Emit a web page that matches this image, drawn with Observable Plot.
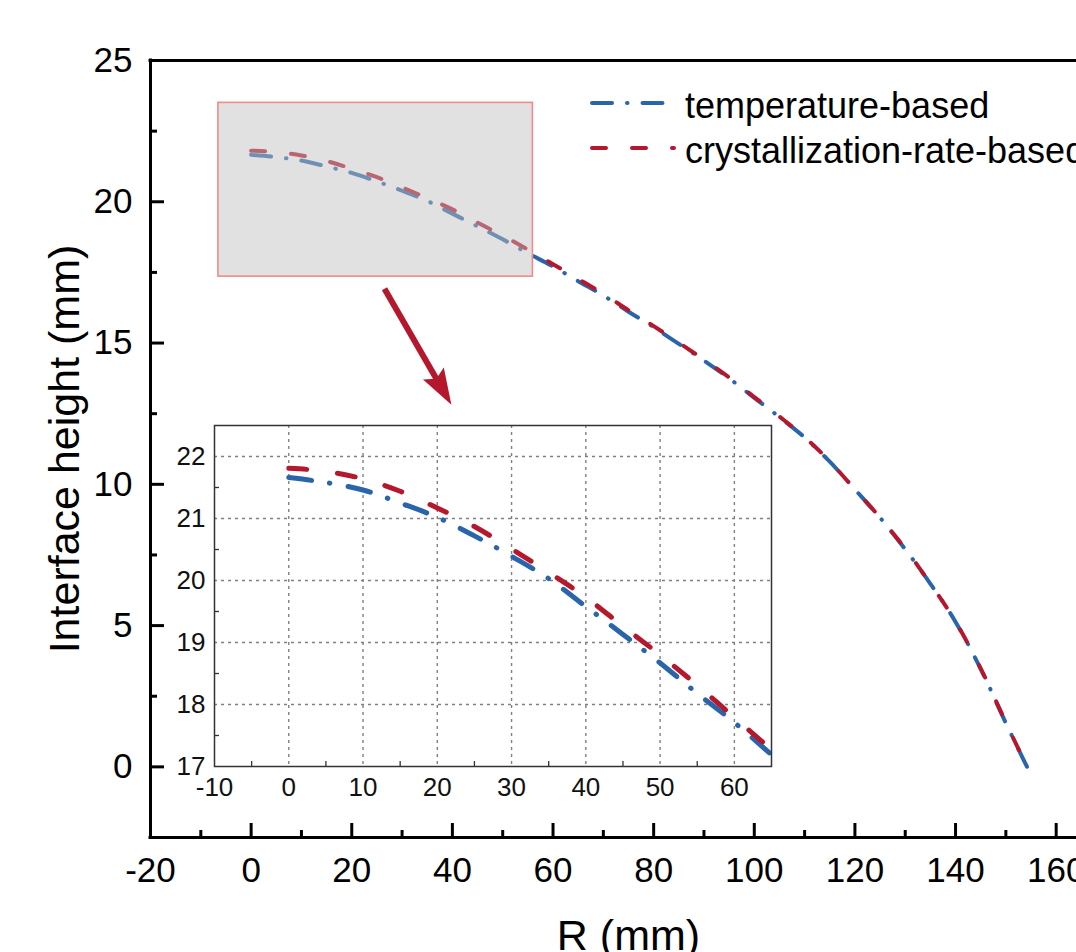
<!DOCTYPE html>
<html><head><meta charset="utf-8">
<script src="https://cdn.jsdelivr.net/npm/d3@7"></script>
<script src="https://cdn.jsdelivr.net/npm/@observablehq/plot@0.6"></script>
<style>
html,body{margin:0;padding:0;overflow:hidden;background:#fff;width:1076px;height:952px}
#wrap{position:relative;width:1076px;height:952px;overflow:hidden;background:#fff}
#wrap svg{position:absolute;display:block}
#main [aria-label="x-axis tick label"], #main [aria-label="y-axis tick label"],
#main [aria-label="x-axis tick label"] text, #main [aria-label="y-axis tick label"] text{font-size:35px !important}
</style></head><body><div id="wrap"></div>
<script>
// ---------- data ----------
const rValues = [0,5,10,15,20,25,30,35,40,45,50,55,60,65,70,75,80,85,90,95,100,105,110,115,120,125,130,135,140,145,150,154.2];
const temperatureBased = [21.66,21.58,21.46,21.25,21.02,20.72,20.39,20.03,19.58,19.13,18.67,18.18,17.71,17.19,16.68,16.11,15.56,14.97,14.38,13.75,13.06,12.38,11.66,10.80,9.82,8.82,7.70,6.48,5.13,3.47,1.55,0];
const crystallizationRateBased = [21.81,21.76,21.64,21.44,21.17,20.87,20.51,20.13,19.73,19.26,18.80,18.31,17.79,17.27,16.74,16.16,15.60,15.01,14.41,13.78,13.09,12.40,11.67,10.81,9.82,8.82,7.72,6.48,5.14,3.48,1.57,0];
const seriesNames = ["temperature-based","crystallization-rate-based"];

const xMajor = [-20,0,20,40,60,80,100,120,140,160];
const xMinor = [-10,10,30,50,70,90,110,130,150,170];
const yMajor = [0,5,10,15,20,25];
const yMinor = [2.5,7.5,12.5,17.5,22.5];

const insetXTicks = [-10,0,10,20,30,40,50,60];
const insetXMinor = [-5,5,15,25,35,45,55];
const insetYTicks = [17,18,19,20,21,22];
const insetYMinor = [17.5,18.5,19.5,20.5,21.5];

const zoomBox = {x1:-6.5, x2:56, y1:17.35, y2:23.5};
const arrowPts = {x1:26.6, y1:16.9, x2:39.9, y2:12.8};

const xTitle = "R (mm)";
const yTitle = "Interface height (mm)";

// ---------- style ----------
const BLUE = "#2a65ab", RED = "#b5182c";
const FONT = "'Liberation Sans', Arial, Helvetica, sans-serif";
const fmt = d => String(d);

const temp = rValues.map((r,i)=>({r, h: temperatureBased[i]}));
const cryst = rValues.map((r,i)=>({r, h: crystallizationRateBased[i]}));

function arrowMark(index, scales) {
  const x = scales.x, y = scales.y;
  const X1 = x(arrowPts.x1), Y1 = y(arrowPts.y1), X2 = x(arrowPts.x2), Y2 = y(arrowPts.y2);
  const a = Math.atan2(Y2 - Y1, X2 - X1), c = Math.cos(a), s = Math.sin(a);
  const hl = 36, hw = 12;
  const bx = X2 - hl*c, by = Y2 - hl*s;
  const g = d3.create("svg:g");
  g.append("line").attr("x1", X1).attr("y1", Y1).attr("x2", bx + 8*c).attr("y2", by + 8*s)
    .attr("stroke", RED).attr("stroke-width", 6);
  g.append("path")
    .attr("d", `M${X2},${Y2}L${bx - hw*s},${by + hw*c}L${bx + 6*c},${by + 6*s}L${bx + hw*s},${by - hw*c}Z`)
    .attr("fill", RED);
  return g.node();
}

const FW = 1106 - 150, FH = 837 - 60;
const main = Plot.plot({
  width: 1130, height: 962,
  marginLeft: 150, marginRight: 24, marginTop: 60, marginBottom: 125,
  style: {background: "transparent", maxWidth: "none", fontFamily: FONT, fontSize: "35px", color: "#000", overflow: "visible"},
  x: {domain: [-20, 170], ticks: xMajor, tickFormat: fmt, tickSize: 0, tickPadding: 20, label: null},
  y: {domain: [-2.5, 25], ticks: yMajor, tickFormat: fmt, tickSize: 0, tickPadding: 18, label: null},
  marks: [
    Plot.line(temp, {x: "r", y: "h", stroke: BLUE, strokeWidth: 4, strokeDasharray: "20,15,0.5,15", strokeLinecap: "round", curve: "monotone-x"}),
    Plot.line(cryst, {x: "r", y: "h", stroke: RED, strokeWidth: 4, strokeDasharray: "14,26", strokeLinecap: "round", curve: "monotone-x"}),
    Plot.rect([zoomBox], {x1: "x1", x2: "x2", y1: "y1", y2: "y2", fill: "#c0c0c0", fillOpacity: 0.47, stroke: "#f28a8a", strokeWidth: 1.6}),
    arrowMark,
    Plot.tickX(xMajor, {x: d => d, stroke: "#000", strokeWidth: 3, insetTop: FH - 14}),
    Plot.tickX(xMinor, {x: d => d, stroke: "#000", strokeWidth: 3, insetTop: FH - 7}),
    Plot.tickY(yMajor, {y: d => d, stroke: "#000", strokeWidth: 3, insetRight: FW - 14}),
    Plot.tickY(yMinor, {y: d => d, stroke: "#000", strokeWidth: 3, insetRight: FW - 7}),
    Plot.ruleX([-20], {stroke: "#000", strokeWidth: 3, strokeLinecap: "square"}),
    Plot.ruleY([-2.5], {stroke: "#000", strokeWidth: 3, strokeLinecap: "square"}),
    Plot.ruleY([25], {stroke: "#000", strokeWidth: 3, strokeLinecap: "square"}),
    Plot.text([yTitle], {text: d => d, frameAnchor: "left", dx: -85, rotate: -90, fontSize: 43, fill: "#000", textAnchor: "middle", lineAnchor: "middle"}),
    Plot.text([xTitle], {text: d => d, frameAnchor: "bottom", dy: 99, fontSize: 43, fill: "#000", textAnchor: "middle", lineAnchor: "middle"})
  ]
});
main.id = "main";
main.style.left = "0px"; main.style.top = "0px";

// legend
const lg = d3.select(main).append("g").attr("font-family", FONT).attr("font-size", 36).attr("text-anchor", "start");
const legendRows = [
  {name: seriesNames[0], color: BLUE, dash: "20,15,0.5,15", y: 103, x2: 665},
  {name: seriesNames[1], color: RED, dash: "14,26", y: 148, x2: 674}
];
legendRows.forEach(r => {
  lg.append("line").attr("x1", 592).attr("x2", r.x2).attr("y1", r.y).attr("y2", r.y)
    .attr("stroke", r.color).attr("stroke-width", 4).attr("stroke-linecap", "round").attr("stroke-dasharray", r.dash);
  lg.append("text").attr("x", 685).attr("y", r.y + 15).attr("fill", "#000").attr("text-anchor", "start").text(r.name);
});

const inset = Plot.plot({
  width: 636, height: 406,
  marginLeft: 64, marginTop: 25, marginRight: 15, marginBottom: 40,
  style: {background: "transparent", maxWidth: "none", fontFamily: FONT, fontSize: "26px", color: "#111", overflow: "visible"},
  x: {domain: [-10, 65], ticks: insetXTicks, tickFormat: fmt, tickSize: 0, tickPadding: 11, label: null},
  y: {domain: [17, 22.5], ticks: insetYTicks, tickFormat: fmt, tickSize: 0, tickPadding: 9, label: null},
  marks: [
    Plot.frame({fill: "white", stroke: null}),
    Plot.ruleX(insetXTicks.filter(v => v > -10), {x: d => d, stroke: "#808080", strokeWidth: 1.4, strokeDasharray: "3,4"}),
    Plot.ruleY(insetYTicks.filter(v => v > 17), {y: d => d, stroke: "#808080", strokeWidth: 1.4, strokeDasharray: "3,4"}),
    Plot.line(temp.filter(d => d.r <= 65), {x: "r", y: "h", stroke: BLUE, strokeWidth: 5, strokeDasharray: "23,18,0.5,18.5", strokeLinecap: "round", curve: "monotone-x"}),
    Plot.line(cryst.filter(d => d.r <= 65), {x: "r", y: "h", stroke: RED, strokeWidth: 5, strokeDasharray: "18,31", strokeLinecap: "round", curve: "monotone-x"}),
    Plot.tickX(insetXMinor, {x: d => d, stroke: "#333", strokeWidth: 1.3, insetTop: 341 - 5}),
    Plot.tickY(insetYMinor, {y: d => d, stroke: "#333", strokeWidth: 1.3, insetRight: 557 - 5}),
    Plot.frame({stroke: "#333", strokeWidth: 1.5})
  ]
});
inset.style.left = "150px"; inset.style.top = "400px";

const wrap = document.getElementById("wrap");
wrap.appendChild(main);
wrap.appendChild(inset);
</script>
</body></html>
